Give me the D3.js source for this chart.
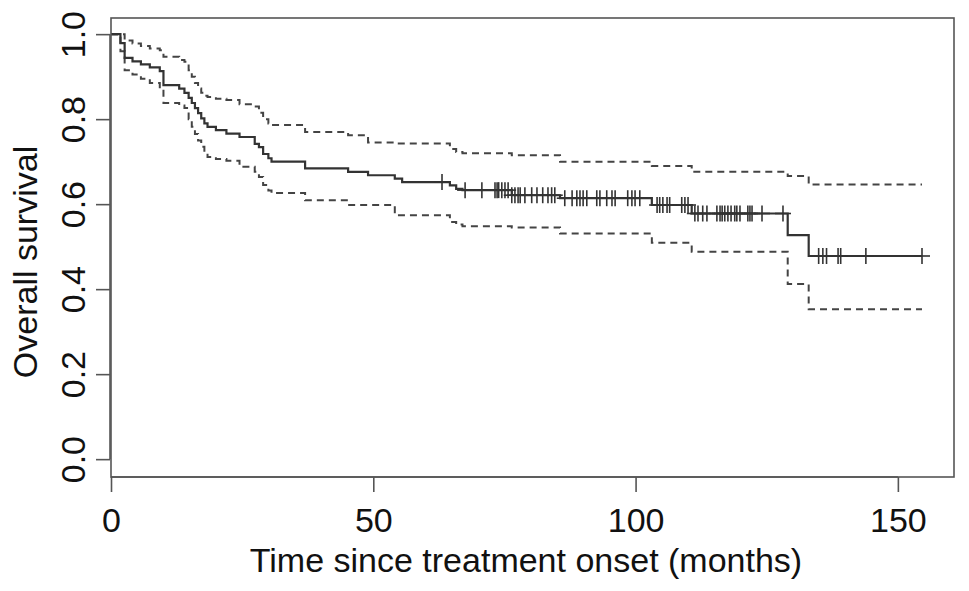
<!DOCTYPE html>
<html>
<head>
<meta charset="utf-8">
<script src="https://cdn.jsdelivr.net/npm/d3@7"></script>
<style>
  body { margin: 0; background: #fff; }
  svg { display: block; font-family: "Liberation Sans", Arial, Helvetica, sans-serif; }
</style>
</head>
<body>
<div id="chart"></div>
<script>
// Kaplan-Meier estimate (months, survival)
const eventTimes = [0, 1.8, 2.6, 4.1, 5.7, 7.4, 9.3, 10.0, 13.0, 14.0,
    14.8, 15.4, 16.0, 16.6, 17.2, 17.8, 18.4, 20.0, 22.0, 24.5,
    27.4, 28.2, 29.0, 30.0, 30.6, 37.0, 45.2, 49.0, 54.1, 55.5,
    64.6, 65.8, 67.0, 76.4, 85.6, 103.1, 110.7, 129.0, 133.0];
const survival = [1.0, 0.979, 0.944, 0.936, 0.929, 0.922, 0.913, 0.880, 0.872, 0.862,
    0.850, 0.838, 0.826, 0.814, 0.802, 0.790, 0.782, 0.774, 0.766, 0.758,
    0.742, 0.734, 0.718, 0.708, 0.700, 0.684, 0.676, 0.668, 0.660, 0.652,
    0.644, 0.636, 0.633, 0.621, 0.614, 0.598, 0.578, 0.527, 0.478];
const upper = [1.0, 1.0, 0.985, 0.978, 0.972, 0.966, 0.962, 0.947, 0.939, 0.935,
    0.915, 0.900, 0.885, 0.872, 0.862, 0.855, 0.852, 0.848, 0.845, 0.835,
    0.830, 0.815, 0.800, 0.790, 0.786, 0.770, 0.762, 0.745, 0.743, 0.743,
    0.730, 0.723, 0.720, 0.715, 0.700, 0.690, 0.676, 0.666, 0.646];
const lower = [1.0, 0.960, 0.915, 0.905, 0.895, 0.885, 0.872, 0.838, 0.832, 0.826,
    0.800, 0.782, 0.765, 0.750, 0.735, 0.722, 0.711, 0.706, 0.702, 0.688,
    0.676, 0.664, 0.645, 0.632, 0.626, 0.609, 0.598, 0.598, 0.574, 0.574,
    0.558, 0.552, 0.548, 0.545, 0.531, 0.509, 0.488, 0.412, 0.353];
const lastFollowUp = 154.6;

// censored observations ("+" marks)
const censorTimes = [63.1, 67.5, 70.7, 73.2, 73.6, 73.9, 74.5, 75.1, 75.7, 76.4,
    77.0, 77.6, 78.0, 78.9, 80.2, 81.2, 82.3, 83.3, 84.0, 84.6,
    86.5, 87.9, 88.8, 89.4, 90.0, 90.7, 92.6, 93.2, 94.5, 95.5,
    96.1, 98.5, 99.3, 99.9, 100.8, 104.1, 104.6, 105.2, 106.0, 106.5,
    108.8, 109.4, 110.0, 111.3, 111.9, 112.8, 113.6, 115.5, 116.1, 116.5,
    117.0, 117.6, 118.2, 118.9, 119.3, 119.9, 121.4, 121.8, 122.2, 124.1,
    128.1, 134.9, 135.7, 136.4, 138.6, 139.1, 143.9, 154.6];

const xTicks = [0, 50, 100, 150];
const yTicks = [0, 0.2, 0.4, 0.6, 0.8, 1.0];

const width = 969;
const height = 591;
const box = { left: 111, right: 954, top: 18, bottom: 477 };

const x = d3.scaleLinear().domain([0, 160.7]).range([box.left, box.right]);
const y = d3.scaleLinear().domain([-0.042, 1.038]).range([box.bottom, box.top]);

const svg = d3.select("#chart")
    .append("svg")
    .attr("width", width)
    .attr("height", height);

// step curves
const stepLine = values => {
    const pts = eventTimes.map((t, i) => [t, values[i]]);
    pts.push([lastFollowUp, values[values.length - 1]]);
    return d3.line()
        .x(d => x(d[0]))
        .y(d => y(d[1]))
        .curve(d3.curveStepAfter)(pts);
};

[upper, lower].forEach(v => {
    svg.append("path")
        .attr("d", stepLine(v))
        .attr("fill", "none")
        .attr("stroke", "#444")
        .attr("stroke-width", 2)
        .attr("stroke-dasharray", "7,5");
});

svg.append("path")
    .attr("d", stepLine(survival))
    .attr("fill", "none")
    .attr("stroke", "#333")
    .attr("stroke-width", 2.2);

// censor marks sit on the step value at that time
const bisect = d3.bisector(d => d).right;
const survAt = t => survival[bisect(eventTimes, t) - 1];

const marks = svg.append("g")
    .attr("stroke", "#333")
    .attr("stroke-width", 1.6);

censorTimes.forEach(t => {
    const cx = x(t), cy = y(survAt(t));
    marks.append("line")
        .attr("x1", cx).attr("x2", cx)
        .attr("y1", cy - 8).attr("y2", cy + 8);
    marks.append("line")
        .attr("x1", cx - 8).attr("x2", cx + 8)
        .attr("y1", cy).attr("y2", cy);
});

// plot box
svg.append("rect")
    .attr("x", box.left)
    .attr("y", box.top)
    .attr("width", box.right - box.left)
    .attr("height", box.bottom - box.top)
    .attr("fill", "none")
    .attr("stroke", "#555")
    .attr("stroke-width", 1.6);

// x axis
const xAxis = svg.append("g")
    .attr("transform", `translate(0, ${box.bottom})`)
    .call(d3.axisBottom(x).tickValues(xTicks).tickSize(15).tickPadding(14));

xAxis.select(".domain").remove();
xAxis.append("line")
    .attr("x1", x(xTicks[0])).attr("x2", x(xTicks[xTicks.length - 1]))
    .attr("stroke", "#555").attr("stroke-width", 1.6);
xAxis.selectAll(".tick line").attr("stroke", "#555").attr("stroke-width", 1.6);
xAxis.selectAll(".tick text")
    .attr("dy", 0)
    .attr("y", 55)
    .style("font-size", "34px")
    .style("font-family", "'Liberation Sans', Arial, sans-serif")
    .attr("fill", "#111");

// y axis
const yAxis = svg.append("g")
    .attr("transform", `translate(${box.left - 1}, 0)`)
    .call(d3.axisLeft(y).tickValues(yTicks).tickSize(14).tickFormat(d3.format(".1f")));

yAxis.select(".domain").remove();
yAxis.append("line")
    .attr("y1", y(yTicks[0])).attr("y2", y(yTicks[yTicks.length - 1]))
    .attr("stroke", "#555").attr("stroke-width", 1.6);
yAxis.selectAll(".tick line").attr("stroke", "#555").attr("stroke-width", 1.6);
yAxis.selectAll(".tick text")
    .attr("transform", "rotate(-90)")
    .attr("x", 0)
    .attr("y", -25)
    .attr("dy", 0)
    .attr("text-anchor", "middle")
    .style("font-size", "34px")
    .style("font-family", "'Liberation Sans', Arial, sans-serif")
    .attr("fill", "#111");

// axis titles
svg.append("text")
    .attr("x", 526)
    .attr("y", 572)
    .attr("text-anchor", "middle")
    .style("font-size", "34px")
    .attr("fill", "#111")
    .text("Time since treatment onset (months)");

svg.append("text")
    .attr("transform", "translate(37, 262) rotate(-90)")
    .attr("text-anchor", "middle")
    .style("font-size", "34px")
    .attr("fill", "#111")
    .text("Overall survival");
</script>
</body>
</html>
